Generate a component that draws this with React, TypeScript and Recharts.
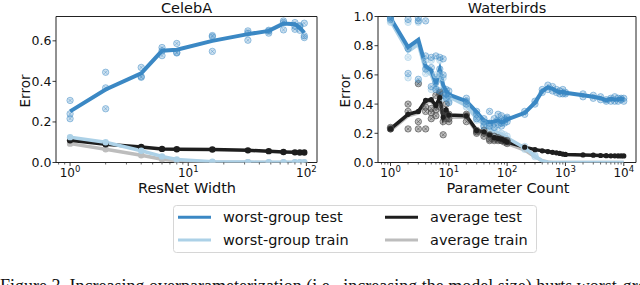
import React from 'react';
import { ComposedChart, Line, Scatter, XAxis, YAxis, ReferenceArea } from 'recharts';

const FONT = 'DejaVu Sans, Verdana, sans-serif';
const C_WT = '#3b88c4';
const C_WTR = '#acd1e7';
const C_AT = '#1e1e1e';
const C_ATR = '#bdbdbd';

// ---------- CelebA ----------
const celebWidths = [1, 2, 4, 6, 8, 16, 32, 48, 64, 80, 88, 96];
const celebWorstTest = [0.252, 0.36, 0.44, 0.551, 0.556, 0.6, 0.633, 0.649, 0.685, 0.682, 0.665, 0.64];
const celebWorstTrain = [0.125, 0.1, 0.058, 0.03, 0.015, 0.004, 0.002, 0.001, 0.001, 0.001, 0.001, 0.001];
const celebAvgTest = [0.11, 0.09, 0.077, 0.067, 0.065, 0.064, 0.06, 0.056, 0.052, 0.05, 0.049, 0.049];
const celebAvgTrain = [0.093, 0.065, 0.036, 0.016, 0.008, 0.002, 0.001, 0, 0, 0, 0, 0];
const celebWorstTestSeeds = [
  [0.306, 0.24, 0.216],
  [0.445, 0.368, 0.265],
  [0.469, 0.424, 0.42],
  [0.567, 0.551, 0.527],
  [0.587, 0.543, 0.54],
  [0.626, 0.62, 0.548],
  [0.649, 0.638, 0.603],
  [0.652, 0.638, 0.648],
  [0.698, 0.654, 0.69],
  [0.69, 0.657, 0.672],
  [0.652, 0.67, 0.675],
  [0.687, 0.625, 0.616],
];
const celebXTicks = [1, 10, 100];
const celebXMinor = [0.8, 0.9, 2, 3, 4, 5, 6, 7, 8, 9, 20, 30, 40, 50, 60, 70, 80, 90];
const celebYTicks = [0, 0.2, 0.4, 0.6];
const celebXDomain = [0.76, 123];
const celebYDomain = [0, 0.72];

// ---------- Waterbirds ----------
const wbParams = [1, 2, 3, 4, 5, 6, 7, 8, 9, 10, 20, 30, 40, 50, 60, 70, 80, 90, 100, 200, 300, 400, 500, 600, 700, 800, 900, 1000, 2000, 3000, 4000, 5000, 6000, 7000, 8000, 9000, 10000];
const wbWorstTest = [0.99, 0.79, 0.84, 0.66, 0.63, 0.545, 0.635, 0.53, 0.49, 0.465, 0.42, 0.345, 0.285, 0.275, 0.28, 0.29, 0.275, 0.285, 0.295, 0.34, 0.41, 0.49, 0.515, 0.505, 0.49, 0.48, 0.485, 0.478, 0.46, 0.45, 0.44, 0.425, 0.437, 0.43, 0.433, 0.436, 0.43];
const wbWorstTrain = [0.97, 0.76, 0.81, 0.63, 0.6, 0.52, 0.6, 0.5, 0.47, 0.45, 0.39, 0.3, 0.26, 0.23, 0.21, 0.2, 0.19, 0.18, 0.17, 0.1, 0.045, 0.01, 0.002, 0, 0, 0, 0, 0, 0, 0, 0, 0, 0, 0, 0, 0, 0];
const wbAvgTest = [0.23, 0.33, 0.35, 0.425, 0.43, 0.39, 0.445, 0.31, 0.36, 0.325, 0.32, 0.22, 0.21, 0.19, 0.17, 0.165, 0.16, 0.15, 0.14, 0.105, 0.088, 0.08, 0.075, 0.07, 0.066, 0.062, 0.058, 0.055, 0.052, 0.05, 0.048, 0.047, 0.046, 0.046, 0.045, 0.045, 0.045];
const wbAvgTrain = [0.22, 0.32, 0.34, 0.41, 0.42, 0.38, 0.43, 0.29, 0.34, 0.31, 0.31, 0.21, 0.2, 0.18, 0.16, 0.15, 0.145, 0.14, 0.13, 0.085, 0.04, 0.012, 0.003, 0, 0, 0, 0, 0, 0, 0, 0, 0, 0, 0, 0, 0, 0];
const wbWorstTestSeeds = [
  [0.98, 1.0, 0.99], [0.98, 0.61, 0.78], [0.97, 0.99, 0.57], [0.97, 0.73, 0.64], [0.72, 0.52, 0.65],
  [0.73, 0.5, 0.55], [0.72, 0.64, 0.49], [0.71, 0.6, 0.46], [0.5, 0.47, 0.44], [0.49, 0.46, 0.41],
  [0.4, 0.44, 0.42], [0.33, 0.3, 0.35], [0.28, 0.3, 0.25], [0.35, 0.25, 0.27], [0.27, 0.3, 0.24],
  [0.33, 0.29, 0.26], [0.32, 0.25, 0.27], [0.3, 0.27, 0.29], [0.31, 0.28, 0.3], [0.33, 0.35],
  [0.4, 0.42], [0.48, 0.5], [0.53, 0.5], [0.52, 0.49], [0.5, 0.48], [0.47, 0.49], [0.5, 0.47],
  [0.47, 0.48], [0.47, 0.45], [0.46, 0.44], [0.45, 0.43], [0.42, 0.43], [0.44, 0.42], [0.45, 0.42],
  [0.44, 0.42], [0.43, 0.44], [0.44, 0.42],
];
const wbWorstTrainSeeds = [
  [0.96, 0.97], [0.72, 0.58, 0.96], [0.55, 0.96], [0.7, 0.61], [0.5, 0.7],
  [0.51, 0.6], [0.7, 0.6], [0.44, 0.58], [0.45], [0.42, 0.44],
  [0.38, 0.4], [0.29, 0.31], [0.25, 0.27], [0.22, 0.24], [0.2, 0.22],
  [0.19, 0.21], [0.18, 0.2], [0.17, 0.19], [0.16, 0.18], [0.09, 0.11], [0.04, 0.05],
];
const wbAvgTestSeeds = [
  [0.23, 0.23, 0.24], [0.35, 0.4, 0.23], [0.28, 0.54, 0.23], [0.38, 0.35, 0.23], [0.3, 0.34, 0.37],
  [0.32, 0.36, 0.46], [0.47, 0.48, 0.38], [0.19, 0.28, 0.35], [0.3, 0.33, 0.4], [0.3, 0.28, 0.33],
  [0.28, 0.32, 0.33], [0.2, 0.22, 0.21], [0.18, 0.2, 0.22], [0.16, 0.15, 0.19], [0.15, 0.16, 0.18],
  [0.15, 0.16, 0.17], [0.15, 0.15, 0.16], [0.14, 0.15, 0.15], [0.14, 0.13, 0.15],
];
const wbXTicks = [1, 10, 100, 1000, 10000];
const wbXMinor = [0.7, 0.8, 0.9, 2, 3, 4, 5, 6, 7, 8, 9, 20, 30, 40, 50, 60, 70, 80, 90, 200, 300, 400, 500, 600, 700, 800, 900, 2000, 3000, 4000, 5000, 6000, 7000, 8000, 9000];
const wbYTicks = [0, 0.2, 0.4, 0.6, 0.8, 1.0];
const wbXDomain = [0.61, 16200];
const wbYDomain = [0, 1];

const legendItems = [
  { label: 'worst-group test', color: C_WT },
  { label: 'worst-group train', color: C_WTR },
  { label: 'average test', color: C_AT },
  { label: 'average train', color: C_ATR },
];

// ---------- helpers ----------
function buildTable(xs: number[], wt: number[], wtr: number[], at: number[], atr: number[]) {
  return xs.map((x, i) => ({ x, wt: wt[i], wtr: wtr[i], at: at[i], atr: atr[i] }));
}
function buildSeeds(xs: number[], seeds: number[][]) {
  const out: { x: number; y: number }[] = [];
  seeds.forEach((arr, i) => arr.forEach((y) => out.push({ x: xs[i], y })));
  return out;
}

const XTick = (props: any) => {
  const { x, y, payload } = props;
  const v = payload.value as number;
  const lg = Math.log10(v);
  const exp = Math.round(lg);
  const major = Math.abs(lg - exp) < 1e-6;
  return (
    <g>
      <line x1={x} x2={x} y1={y} y2={y + (major ? 3.5 : 2)} stroke="#222" strokeWidth={major ? 0.9 : 0.7} />
      {major && (
        <text x={x} y={y + 14.2} textAnchor="middle" fontSize={12} fill="#111" fontFamily={FONT}>
          10<tspan dy={-5} fontSize={8.5}>{exp}</tspan>
        </text>
      )}
    </g>
  );
};

const YTick = (props: any) => {
  const { x, y, payload } = props;
  return (
    <g>
      <line x1={x - 3.5} x2={x} y1={y} y2={y} stroke="#222" strokeWidth={0.9} />
      <text x={x - 4.5} y={y + 4.5} textAnchor="end" fontSize={12.5} fill="#111" fontFamily={FONT}>
        {(payload.value as number).toFixed(1)}
      </text>
    </g>
  );
};

const makeMarker = (color: string, fillOp: number, strokeOp: number) => (p: any) => {
  const { cx, cy } = p;
  if (cx == null || cy == null) return <g />;
  const d = 1.6;
  return (
    <g>
      <circle cx={cx} cy={cy} r={3.2} fill={color} fillOpacity={fillOp} stroke={color} strokeOpacity={strokeOp} strokeWidth={0.8} />
      <path d={`M${cx - d},${cy - d}L${cx + d},${cy + d}M${cx - d},${cy + d}L${cx + d},${cy - d}`} stroke={color} strokeOpacity={strokeOp} strokeWidth={0.7} />
    </g>
  );
};

type PanelProps = {
  width: number;
  height: number;
  yAxisWidth: number;
  marginRight: number;
  table: any[];
  xDomain: number[];
  yDomain: number[];
  xTicks: number[];
  yTicks: number[];
  seedsWT: { x: number; y: number }[];
  seedsWTR: { x: number; y: number }[];
  seedsAT: { x: number; y: number }[];
  dotR: number;
  trainDots: boolean;
};

const Panel = (pp: PanelProps) => (
  <ComposedChart
    width={pp.width}
    height={pp.height}
    data={pp.table}
    margin={{ top: 16.5, right: pp.marginRight, bottom: 0, left: 0 }}
  >
    <XAxis
      dataKey="x"
      type="number"
      scale="log"
      domain={pp.xDomain}
      allowDataOverflow
      ticks={pp.xTicks}
      interval={0}
      tick={<XTick />}
      tickLine={false}
      axisLine={false}
      tickSize={0}
      tickMargin={0}
      height={37.5}
    />
    <YAxis
      type="number"
      domain={pp.yDomain}
      allowDataOverflow
      ticks={pp.yTicks}
      interval={0}
      tick={<YTick />}
      tickLine={false}
      axisLine={false}
      tickSize={0}
      tickMargin={0}
      width={pp.yAxisWidth}
    />
    <Scatter data={pp.seedsWTR} dataKey="y" isAnimationActive={false} shape={makeMarker(C_WTR, 0.35, 0.8)} />
    <Scatter data={pp.seedsAT} dataKey="y" isAnimationActive={false} shape={makeMarker('#444', 0.35, 0.75)} />
    <Scatter data={pp.seedsWT} dataKey="y" isAnimationActive={false} shape={makeMarker(C_WT, 0.25, 0.6)} />
    <Line
      dataKey="atr"
      stroke={C_ATR}
      strokeWidth={3.5}
      isAnimationActive={false}
      dot={pp.trainDots ? { r: pp.dotR, fill: C_ATR, stroke: 'none' } : false}
    />
    <Line
      dataKey="at"
      stroke={C_AT}
      strokeWidth={3.5}
      isAnimationActive={false}
      dot={{ r: pp.dotR, fill: C_AT, stroke: 'none' }}
    />
    <Line
      dataKey="wtr"
      stroke={C_WTR}
      strokeWidth={3.5}
      isAnimationActive={false}
      dot={pp.trainDots ? { r: pp.dotR, fill: C_WTR, stroke: 'none' } : false}
    />
    <Line dataKey="wt" stroke={C_WT} strokeWidth={4} isAnimationActive={false} dot={false} />
    <ReferenceArea
      x1={pp.xDomain[0]}
      x2={pp.xDomain[1]}
      y1={pp.yDomain[0]}
      y2={pp.yDomain[1]}
      fill="none"
      stroke="#222"
      strokeWidth={1}
      ifOverflow="visible"
    />
  </ComposedChart>
);

export default function App() {
  const celebTable = buildTable(celebWidths, celebWorstTest, celebWorstTrain, celebAvgTest, celebAvgTrain);
  const wbTable = buildTable(wbParams, wbWorstTest, wbWorstTrain, wbAvgTest, wbAvgTrain);

  return (
    <div style={{ position: 'absolute', left: 0, top: 0, width: 640, height: 285, overflow: 'hidden', background: '#fff' }}>
      <div style={{ position: 'absolute', left: 0, top: 0 }}>
        <Panel
          width={330}
          height={200}
          yAxisWidth={56}
          marginRight={13}
          table={celebTable}
          xDomain={celebXDomain}
          yDomain={celebYDomain}
          xTicks={[...celebXTicks, ...celebXMinor].sort((a, b) => a - b)}
          yTicks={celebYTicks}
          seedsWT={buildSeeds(celebWidths, celebWorstTestSeeds)}
          seedsWTR={[]}
          seedsAT={[]}
          dotR={3.2}
          trainDots={true}
        />
      </div>
      <div style={{ position: 'absolute', left: 330, top: 0 }}>
        <Panel
          width={310}
          height={200}
          yAxisWidth={48}
          marginRight={4}
          table={wbTable}
          xDomain={wbXDomain}
          yDomain={wbYDomain}
          xTicks={[...wbXTicks, ...wbXMinor].sort((a, b) => a - b)}
          yTicks={wbYTicks}
          seedsWT={buildSeeds(wbParams, wbWorstTestSeeds)}
          seedsWTR={buildSeeds(wbParams, wbWorstTrainSeeds)}
          seedsAT={buildSeeds(wbParams, wbAvgTestSeeds)}
          dotR={2.6}
          trainDots={false}
        />
      </div>
      <svg width={640} height={285} style={{ position: 'absolute', left: 0, top: 0, pointerEvents: 'none' }}>
        <g fontFamily={FONT} fill="#111">
          <text x={186.5} y={13.3} textAnchor="middle" fontSize={14.5}>CelebA</text>
          <text x={507} y={13.3} textAnchor="middle" fontSize={14.5}>Waterbirds</text>
          <text x={187} y={193} textAnchor="middle" fontSize={14.5}>ResNet Width</text>
          <text x={508} y={193} textAnchor="middle" fontSize={14.5}>Parameter Count</text>
          <text x={30} y={91} textAnchor="middle" fontSize={13.5} transform="rotate(-90 30 91)">Error</text>
          <text x={350} y={91} textAnchor="middle" fontSize={13.5} transform="rotate(-90 350 91)">Error</text>
        </g>
        <rect x={173.5} y={205.5} width={363} height={47} rx={3} fill="#fff" stroke="#d6d6d6" strokeWidth={1} />
        {legendItems.map((it, i) => {
          const col = Math.floor(i / 2);
          const row = i % 2;
          const lx = col === 0 ? 178 : 385;
          const ly = row === 0 ? 217.3 : 240;
          return (
            <g key={it.label}>
              <line x1={lx} x2={lx + 33} y1={ly} y2={ly} stroke={it.color} strokeWidth={3} />
              <text x={lx + 45} y={ly + 5} fontSize={14.5} fontFamily={FONT} fill="#111">{it.label}</text>
            </g>
          );
        })}
        <text x={0} y={292} fontSize={18} fontFamily="Liberation Serif, Times New Roman, serif" fill="#111">
          Figure 3. Increasing overparameterization (i.e., increasing the model size) hurts worst-group error.
        </text>
      </svg>
    </div>
  );
}
